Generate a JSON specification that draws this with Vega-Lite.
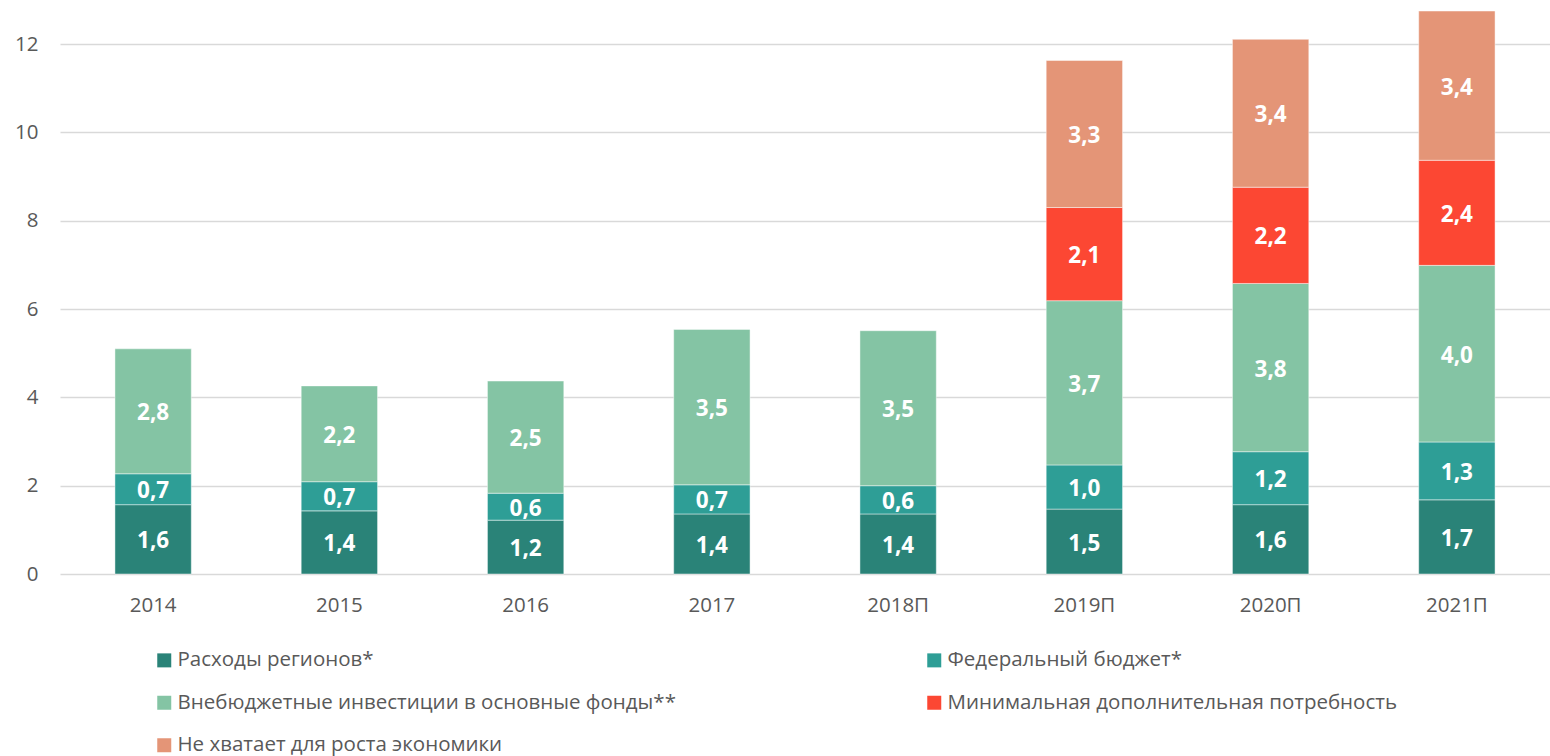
{
  "$schema": "https://vega.github.io/schema/vega-lite/v6.json",
  "width": 1490,
  "height": 574,
  "autosize": {"type": "none"},
  "padding": {"left": 60, "top": 0, "right": 0, "bottom": 182},
  "background": "#ffffff",
  "config": {
    "view": {"stroke": null},
    "font": "Open Sans",
    "axis": {"labelFont": "Open Sans", "labelColor": "#595959", "labelFontSize": 20.5}
  },
  "data": {
    "values": [
      {"year": "2014", "series": "Расходы регионов*", "o": 1, "value": 1.57, "label": "1,6"},
      {"year": "2014", "series": "Федеральный бюджет*", "o": 2, "value": 0.70, "label": "0,7"},
      {"year": "2014", "series": "Внебюджетные инвестиции в основные фонды**", "o": 3, "value": 2.83, "label": "2,8"},
      {"year": "2015", "series": "Расходы регионов*", "o": 1, "value": 1.43, "label": "1,4"},
      {"year": "2015", "series": "Федеральный бюджет*", "o": 2, "value": 0.66, "label": "0,7"},
      {"year": "2015", "series": "Внебюджетные инвестиции в основные фонды**", "o": 3, "value": 2.17, "label": "2,2"},
      {"year": "2016", "series": "Расходы регионов*", "o": 1, "value": 1.22, "label": "1,2"},
      {"year": "2016", "series": "Федеральный бюджет*", "o": 2, "value": 0.61, "label": "0,6"},
      {"year": "2016", "series": "Внебюджетные инвестиции в основные фонды**", "o": 3, "value": 2.54, "label": "2,5"},
      {"year": "2017", "series": "Расходы регионов*", "o": 1, "value": 1.36, "label": "1,4"},
      {"year": "2017", "series": "Федеральный бюджет*", "o": 2, "value": 0.66, "label": "0,7"},
      {"year": "2017", "series": "Внебюджетные инвестиции в основные фонды**", "o": 3, "value": 3.52, "label": "3,5"},
      {"year": "2018П", "series": "Расходы регионов*", "o": 1, "value": 1.36, "label": "1,4"},
      {"year": "2018П", "series": "Федеральный бюджет*", "o": 2, "value": 0.64, "label": "0,6"},
      {"year": "2018П", "series": "Внебюджетные инвестиции в основные фонды**", "o": 3, "value": 3.51, "label": "3,5"},
      {"year": "2019П", "series": "Расходы регионов*", "o": 1, "value": 1.47, "label": "1,5"},
      {"year": "2019П", "series": "Федеральный бюджет*", "o": 2, "value": 1.00, "label": "1,0"},
      {"year": "2019П", "series": "Внебюджетные инвестиции в основные фонды**", "o": 3, "value": 3.72, "label": "3,7"},
      {"year": "2019П", "series": "Минимальная дополнительная потребность", "o": 4, "value": 2.11, "label": "2,1"},
      {"year": "2019П", "series": "Не хватает для роста экономики", "o": 5, "value": 3.33, "label": "3,3"},
      {"year": "2020П", "series": "Расходы регионов*", "o": 1, "value": 1.57, "label": "1,6"},
      {"year": "2020П", "series": "Федеральный бюджет*", "o": 2, "value": 1.20, "label": "1,2"},
      {"year": "2020П", "series": "Внебюджетные инвестиции в основные фонды**", "o": 3, "value": 3.81, "label": "3,8"},
      {"year": "2020П", "series": "Минимальная дополнительная потребность", "o": 4, "value": 2.18, "label": "2,2"},
      {"year": "2020П", "series": "Не хватает для роста экономики", "o": 5, "value": 3.35, "label": "3,4"},
      {"year": "2021П", "series": "Расходы регионов*", "o": 1, "value": 1.68, "label": "1,7"},
      {"year": "2021П", "series": "Федеральный бюджет*", "o": 2, "value": 1.31, "label": "1,3"},
      {"year": "2021П", "series": "Внебюджетные инвестиции в основные фонды**", "o": 3, "value": 4.00, "label": "4,0"},
      {"year": "2021П", "series": "Минимальная дополнительная потребность", "o": 4, "value": 2.38, "label": "2,4"},
      {"year": "2021П", "series": "Не хватает для роста экономики", "o": 5, "value": 3.38, "label": "3,4"}
    ]
  },
  "transform": [
    {"stack": "value", "groupby": ["year"], "sort": [{"field": "o", "order": "ascending"}], "as": ["v0", "v1"]},
    {"calculate": "(datum.v0 + datum.v1) / 2", "as": "vmid"}
  ],
  "encoding": {
    "x": {
      "field": "year", "type": "ordinal", "sort": null,
      "scale": {"paddingInner": 0.59, "paddingOuter": 0.295},
      "axis": {"title": null, "labelAngle": 0, "ticks": false, "domain": false, "labelPadding": 21, "grid": false}
    }
  },
  "layer": [
    {
      "mark": {"type": "bar", "stroke": "#ffffff", "strokeWidth": 1, "strokeOpacity": 0.45},
      "encoding": {
        "y": {
          "field": "v0", "type": "quantitative",
          "scale": {"domain": [0, 13], "nice": false, "zero": true},
          "axis": {"title": null, "values": [0, 2, 4, 6, 8, 10, 12], "ticks": false, "domain": false, "labelPadding": 22, "gridColor": "#d9d9d9", "gridWidth": 1.5}
        },
        "y2": {"field": "v1"},
        "color": {
          "field": "series", "type": "nominal",
          "scale": {
            "domain": ["Расходы регионов*", "Федеральный бюджет*", "Внебюджетные инвестиции в основные фонды**", "Минимальная дополнительная потребность", "Не хватает для роста экономики"],
            "range": ["#2A8378", "#2E9E96", "#84C4A4", "#FC4733", "#E49577"]
          },
          "legend": {
            "title": null, "orient": "none", "legendX": 94, "legendY": 650, "direction": "horizontal", "columns": 2,
            "symbolType": "square", "symbolSize": 196, "symbolStrokeWidth": 0, "symbolOpacity": 1,
            "labelFont": "Open Sans", "labelFontSize": 20.5, "labelColor": "#595959", "labelLimit": 800, "labelOffset": 3,
            "columnPadding": 248, "rowPadding": 21.5
          }
        },
        "order": {"field": "o", "type": "quantitative"}
      }
    },
    {
      "mark": {"type": "text", "color": "#ffffff", "fontWeight": "bold", "fontSize": 22.5, "font": "Open Sans", "baseline": "middle", "dy": 2},
      "encoding": {
        "y": {"field": "vmid", "type": "quantitative"},
        "text": {"field": "label", "type": "nominal"}
      }
    }
  ]
}
